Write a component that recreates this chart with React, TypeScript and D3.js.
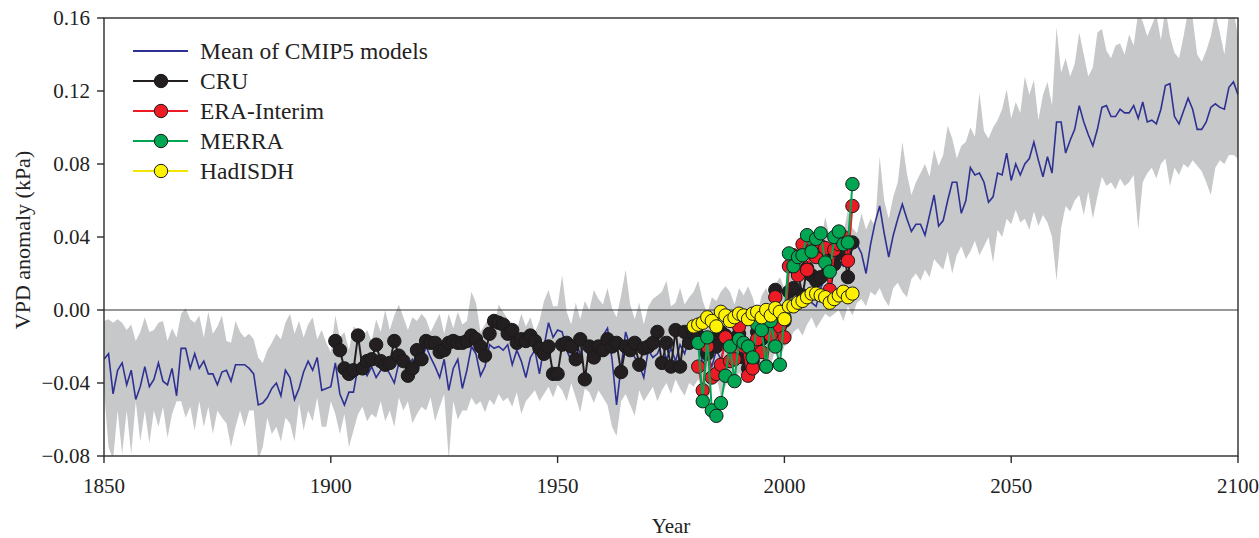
import React from 'react';
import * as d3 from 'd3';

const W = 1259;
const H = 538;
const plot = { left: 104, right: 1238, top: 18, bottom: 456 };
const FONT = '"Liberation Serif", "Times New Roman", serif';

// CMIP5 ensemble, one value per year from 1850 to 2100 (kPa)
const CMIP_START = 1850;
const cmipMean = [
  -0.027, -0.024, -0.046, -0.033, -0.029, -0.041, -0.033, -0.049, -0.042, -0.031,
  -0.042, -0.038, -0.029, -0.039, -0.041, -0.032, -0.047, -0.021, -0.021, -0.032,
  -0.024, -0.032, -0.028, -0.035, -0.035, -0.041, -0.034, -0.033, -0.039, -0.030,
  -0.030, -0.030, -0.032, -0.035, -0.052, -0.051, -0.048, -0.043, -0.040, -0.047,
  -0.033, -0.037, -0.049, -0.043, -0.034, -0.028, -0.033, -0.026, -0.044, -0.043,
  -0.042, -0.029, -0.046, -0.052, -0.045, -0.045, -0.031, -0.031, -0.036, -0.031,
  -0.037, -0.033, -0.031, -0.035, -0.040, -0.029, -0.026, -0.030, -0.027, -0.033,
  -0.028, -0.020, -0.026, -0.031, -0.037, -0.027, -0.044, -0.032, -0.027, -0.043,
  -0.033, -0.020, -0.024, -0.036, -0.031, -0.019, -0.021, -0.020, -0.022, -0.019,
  -0.030, -0.022, -0.028, -0.037, -0.026, -0.022, -0.035, -0.020, -0.007, -0.015,
  -0.011, -0.012, -0.022, -0.028, -0.017, -0.024, -0.019, -0.027, -0.018, -0.022,
  -0.014, -0.010, -0.027, -0.052, -0.031, -0.012, -0.020, -0.026, -0.030, -0.037,
  -0.022, -0.026, -0.024, -0.018, -0.027, -0.021, -0.028, -0.019, -0.024, -0.015,
  -0.020, -0.016, -0.030, -0.024, -0.031, -0.022, -0.027, -0.018, -0.025, -0.013,
  -0.020, -0.017, -0.024, -0.012, -0.020, -0.010, -0.014, -0.006, -0.012, -0.003,
  0.000, 0.004, 0.006, 0.003, 0.010, 0.008, 0.004, 0.002, 0.012, 0.018,
  0.018, 0.022, 0.026, 0.024, 0.030, 0.033, 0.036, 0.031, 0.020, 0.036,
  0.048, 0.057, 0.042, 0.029, 0.041, 0.050, 0.058, 0.050, 0.043, 0.047,
  0.047, 0.041, 0.052, 0.063, 0.046, 0.049, 0.060, 0.070, 0.070, 0.053,
  0.060, 0.078, 0.074, 0.075, 0.070, 0.059, 0.062, 0.075, 0.074, 0.086,
  0.071, 0.080, 0.074, 0.080, 0.083, 0.092, 0.082, 0.073, 0.084, 0.075,
  0.103, 0.103, 0.086, 0.093, 0.099, 0.112, 0.103, 0.096, 0.090, 0.099,
  0.111, 0.112, 0.106, 0.106, 0.110, 0.108, 0.108, 0.112, 0.105, 0.114,
  0.103, 0.104, 0.102, 0.110, 0.123, 0.124, 0.106, 0.102, 0.109, 0.116,
  0.110, 0.099, 0.099, 0.103, 0.111, 0.113, 0.111, 0.110, 0.122, 0.125,
  0.118,
];
const cmipUpper = [
  -0.006, -0.005, -0.007, -0.005, -0.007, -0.011, -0.008, -0.017, -0.012, -0.004,
  -0.012, -0.011, -0.007, -0.006, -0.017, -0.010, -0.015, -0.002, 0.001, -0.005,
  -0.007, -0.003, -0.015, -0.001, -0.013, -0.009, -0.003, -0.017, -0.018, -0.006,
  -0.012, -0.015, -0.013, -0.016, -0.026, -0.029, -0.022, -0.018, -0.013, -0.016,
  -0.007, -0.002, -0.013, -0.006, -0.015, -0.008, -0.004, -0.016, -0.011, -0.018,
  -0.023, -0.003, -0.015, -0.012, -0.022, -0.009, -0.011, -0.015, -0.011, -0.017,
  -0.005, -0.012, 0.000, -0.011, -0.003, 0.003, -0.004, -0.011, -0.004, -0.006,
  -0.002, -0.005, -0.012, -0.007, -0.002, -0.013, -0.002, -0.010, -0.001, -0.008,
  -0.006, 0.010, 0.004, -0.012, -0.008, -0.004, -0.009, 0.003, -0.001, -0.005,
  -0.007, -0.011, -0.002, -0.009, -0.004, -0.012, -0.006, 0.005, 0.011, 0.002,
  0.002, 0.019, -0.001, -0.008, 0.004, -0.005, 0.005, 0.000, 0.011, 0.006,
  0.003, 0.012, 0.001, -0.004, 0.008, 0.022, 0.003, -0.005, 0.004, -0.008,
  0.002, 0.006, 0.008, 0.010, 0.016, 0.002, 0.004, 0.012, 0.003, 0.007,
  0.010, 0.016, 0.005, -0.002, 0.007, 0.005, 0.010, 0.013, 0.010, 0.003,
  0.012, 0.008, 0.013, 0.007, -0.002, 0.008, 0.012, 0.005, 0.014, 0.018,
  0.012, 0.020, 0.025, 0.018, 0.030, 0.028, 0.035, 0.040, 0.036, 0.051,
  0.040, 0.038, 0.045, 0.042, 0.055, 0.045, 0.042, 0.053, 0.044, 0.050,
  0.046, 0.084, 0.060, 0.050, 0.062, 0.070, 0.092, 0.075, 0.063, 0.070,
  0.075, 0.080, 0.073, 0.088, 0.079, 0.085, 0.101, 0.094, 0.083, 0.090,
  0.092, 0.100, 0.095, 0.119, 0.098, 0.094, 0.100, 0.104, 0.110, 0.121,
  0.105, 0.114, 0.108, 0.128, 0.118, 0.126, 0.104, 0.118, 0.125, 0.112,
  0.155, 0.130, 0.138, 0.128, 0.135, 0.152, 0.140, 0.128, 0.133, 0.152,
  0.154, 0.142, 0.138, 0.145, 0.146, 0.140, 0.151, 0.145, 0.163, 0.158,
  0.150, 0.156, 0.162, 0.148, 0.165, 0.150, 0.141, 0.138, 0.150, 0.164,
  0.160, 0.140, 0.136, 0.142, 0.150, 0.163, 0.152, 0.140, 0.162, 0.165,
  0.150,
];
const cmipLower = [
  -0.044, -0.075, -0.082, -0.055, -0.079, -0.055, -0.079, -0.050, -0.072, -0.055,
  -0.073, -0.055, -0.064, -0.053, -0.070, -0.057, -0.050, -0.050, -0.059, -0.053,
  -0.066, -0.050, -0.064, -0.053, -0.068, -0.055, -0.059, -0.062, -0.075, -0.064,
  -0.055, -0.064, -0.055, -0.055, -0.082, -0.075, -0.059, -0.068, -0.064, -0.072,
  -0.059, -0.062, -0.072, -0.051, -0.066, -0.055, -0.061, -0.048, -0.064, -0.064,
  -0.050, -0.057, -0.068, -0.057, -0.075, -0.066, -0.057, -0.053, -0.061, -0.057,
  -0.059, -0.050, -0.061, -0.055, -0.064, -0.048, -0.055, -0.050, -0.062, -0.057,
  -0.053, -0.055, -0.048, -0.061, -0.053, -0.046, -0.082, -0.050, -0.060, -0.055,
  -0.055, -0.048, -0.052, -0.050, -0.056, -0.049, -0.052, -0.046, -0.050, -0.048,
  -0.053, -0.045, -0.057, -0.050, -0.047, -0.044, -0.050, -0.046, -0.042, -0.048,
  -0.041, -0.044, -0.050, -0.040, -0.048, -0.056, -0.043, -0.045, -0.051, -0.044,
  -0.048, -0.052, -0.064, -0.069, -0.050, -0.046, -0.052, -0.058, -0.044, -0.050,
  -0.046, -0.042, -0.050, -0.044, -0.040, -0.046, -0.038, -0.043, -0.047, -0.040,
  -0.042, -0.038, -0.045, -0.050, -0.040, -0.036, -0.048, -0.042, -0.036, -0.040,
  -0.034, -0.040, -0.030, -0.036, -0.028, -0.032, -0.026, -0.030, -0.022, -0.026,
  -0.020, -0.018, -0.012, -0.010, -0.014, -0.008, -0.004, -0.010, -0.006, -0.002,
  -0.004, -0.002, 0.000, -0.006, 0.002, -0.003, 0.004, 0.006, 0.002, 0.010,
  0.008, 0.012, 0.006, 0.002, 0.012, 0.015, 0.010, 0.007, 0.017, 0.020,
  0.016, 0.022, 0.018, 0.028, 0.025, 0.022, 0.032, 0.020, 0.030, 0.035,
  0.028, 0.032, 0.038, 0.030, 0.035, 0.040, 0.026, 0.044, 0.040, 0.050,
  0.047, 0.055, 0.048, 0.050, 0.044, 0.054, 0.046, 0.052, 0.048, 0.040,
  0.016, 0.045, 0.057, 0.054, 0.060, 0.063, 0.052, 0.065, 0.050, 0.062,
  0.073, 0.068, 0.070, 0.066, 0.072, 0.068, 0.070, 0.074, 0.044, 0.070,
  0.075, 0.078, 0.072, 0.080, 0.083, 0.068, 0.078, 0.074, 0.080, 0.078,
  0.082, 0.079, 0.076, 0.070, 0.063, 0.078, 0.082, 0.080, 0.085, 0.085,
  0.083,
];

// observations
const CRU_START = 1901;
const cru = [
  -0.017, -0.022, -0.032, -0.035, -0.033, -0.014, -0.032, -0.028, -0.027, -0.019,
  -0.028, -0.030, -0.029, -0.017, -0.025, -0.028, -0.036, -0.032, -0.022, -0.027,
  -0.017, -0.018, -0.018, -0.023, -0.022, -0.018, -0.017, -0.018, -0.018, -0.017,
  -0.014, -0.016, -0.020, -0.025, -0.013, -0.006, -0.007, -0.008, -0.013, -0.011,
  -0.018, -0.016, -0.017, -0.014, -0.017, -0.021, -0.024, -0.020, -0.035, -0.035,
  -0.019, -0.018, -0.020, -0.027, -0.016, -0.038, -0.020, -0.026, -0.020, -0.022,
  -0.016, -0.020, -0.018, -0.034, -0.020, -0.022, -0.018, -0.030, -0.021, -0.020,
  -0.018, -0.012, -0.029, -0.018, -0.031, -0.011, -0.031, -0.012, -0.018, -0.013,
  -0.014, -0.018, -0.024, -0.016, -0.020, -0.012, -0.014, -0.018, -0.017, -0.013,
  -0.026, -0.032, -0.028, -0.012, -0.016, -0.010, -0.007, 0.011, -0.004, -0.006,
  0.010, 0.012, 0.020, 0.008, 0.023, 0.019, 0.016, 0.018, 0.030, 0.008,
  0.025, 0.031, 0.033, 0.018, 0.037,
];
const ERA_START = 1981;
const era = [
  -0.031, -0.044, -0.020, -0.037, -0.035, -0.030, -0.015, -0.028, -0.027, -0.009,
  -0.020, -0.036, -0.032, -0.016, -0.023, -0.031, -0.014, 0.007, -0.009, -0.015,
  0.024, 0.030, 0.019, 0.036, 0.022, 0.033, 0.029, 0.035, 0.034, 0.011,
  0.033, 0.036, 0.040, 0.027, 0.057,
];
const MERRA_START = 1981;
const merra = [
  -0.018, -0.050, -0.015, -0.055, -0.058, -0.051, -0.036, -0.020, -0.039, -0.016,
  -0.018, -0.020, -0.026, -0.008, -0.011, -0.031, -0.006, -0.020, -0.030, -0.004,
  0.031, 0.024, 0.029, 0.030, 0.041, 0.032, 0.039, 0.042, 0.026, 0.021,
  0.040, 0.043, 0.036, 0.037, 0.069,
];
const HAD_START = 1980;
const hadisdh = [
  -0.009, -0.008, -0.007, -0.004, -0.006, -0.009, -0.001, -0.003, -0.006, -0.004,
  -0.002, -0.003, -0.005, -0.002, -0.001, -0.004, 0.000, -0.003, 0.001, -0.001,
  -0.005, 0.002, 0.002, 0.004, 0.005, 0.007, 0.009, 0.009, 0.008, 0.007,
  0.004, 0.006, 0.008, 0.010, 0.007, 0.009,
];

const xTicks = [1850, 1900, 1950, 2000, 2050, 2100];
const yTicks = [-0.08, -0.04, 0, 0.04, 0.08, 0.12, 0.16];

const obsSeries = [
  { name: 'CRU', start: CRU_START, values: cru, fill: '#231f20', line: '#231f20' },
  { name: 'ERA-Interim', start: ERA_START, values: era, fill: '#ed1c24', line: '#ed1c24' },
  { name: 'MERRA', start: MERRA_START, values: merra, fill: '#00a651', line: '#00a651' },
  { name: 'HadISDH', start: HAD_START, values: hadisdh, fill: '#fff200', line: '#f2e600' },
];

const MEAN_COLOR = '#2e3192';
const BAND_COLOR = '#c7c8ca';
const AXIS_COLOR = '#2b2b2b';

const toPoints = (start: number, values: number[]) =>
  values.map((v, i) => ({ year: start + i, v }));

const fmt = (d: number) => d3.format('.2f')(d).replace('-', '\u2212');

export default function App() {
  const x = d3.scaleLinear().domain([1850, 2100]).range([plot.left, plot.right]);
  const y = d3.scaleLinear().domain([-0.08, 0.16]).range([plot.bottom, plot.top]);

  const band = toPoints(CMIP_START, cmipMean).map((d, i) => ({
    year: d.year,
    lo: cmipLower[i],
    hi: cmipUpper[i],
  }));
  const area = d3
    .area<{ year: number; lo: number; hi: number }>()
    .x((d) => x(d.year))
    .y0((d) => y(d.lo))
    .y1((d) => y(d.hi));
  const line = d3
    .line<{ year: number; v: number }>()
    .x((d) => x(d.year))
    .y((d) => y(d.v));

  const legendRows = [
    { name: 'Mean of CMIP5 models', line: MEAN_COLOR, fill: null as string | null },
    ...obsSeries.map((s) => ({ name: s.name, line: s.line, fill: s.fill })),
  ];

  return (
    <svg
      width={W}
      height={H}
      style={{ position: 'absolute', left: 0, top: 0, background: '#fff' }}
      fontFamily={FONT}
    >
      <defs>
        <clipPath id="plot-clip">
          <rect x={plot.left} y={plot.top} width={plot.right - plot.left} height={plot.bottom - plot.top} />
        </clipPath>
      </defs>

      <g clipPath="url(#plot-clip)">
        <path d={area(band) ?? ''} fill={BAND_COLOR} stroke="none" />
        <line x1={plot.left} x2={plot.right} y1={y(0)} y2={y(0)} stroke="#333" strokeWidth={1.2} />
        <path
          d={line(toPoints(CMIP_START, cmipMean)) ?? ''}
          fill="none"
          stroke={MEAN_COLOR}
          strokeWidth={1.6}
          strokeLinejoin="miter"
        />
      </g>

      {obsSeries.map((s) => {
        const pts = toPoints(s.start, s.values);
        return (
          <g key={s.name}>
            <path d={line(pts) ?? ''} fill="none" stroke={s.line} strokeWidth={2} />
            {pts.map((p) => (
              <circle
                key={p.year}
                cx={x(p.year)}
                cy={y(p.v)}
                r={6.7}
                fill={s.fill}
                stroke="#1a1a1a"
                strokeWidth={1}
              />
            ))}
          </g>
        );
      })}

      {/* frame */}
      <rect
        x={plot.left}
        y={plot.top}
        width={plot.right - plot.left}
        height={plot.bottom - plot.top}
        fill="none"
        stroke={AXIS_COLOR}
        strokeWidth={1.4}
      />

      {/* y axis */}
      {yTicks.map((t) => (
        <g key={t}>
          <line x1={plot.left - 7} x2={plot.left} y1={y(t)} y2={y(t)} stroke={AXIS_COLOR} strokeWidth={1.4} />
          <text x={plot.left - 14} y={y(t) + 7} textAnchor="end" fontSize={21} fill="#222">
            {fmt(t)}
          </text>
        </g>
      ))}

      {/* x axis */}
      {xTicks.map((t) => (
        <g key={t}>
          <line x1={x(t)} x2={x(t)} y1={plot.bottom} y2={plot.bottom + 7} stroke={AXIS_COLOR} strokeWidth={1.4} />
          <text x={x(t)} y={plot.bottom + 37} textAnchor="middle" fontSize={21} fill="#222">
            {t}
          </text>
        </g>
      ))}

      <text x={(plot.left + plot.right) / 2} y={533} textAnchor="middle" fontSize={21} fill="#222">
        Year
      </text>
      <text
        transform={`translate(30, ${(plot.top + plot.bottom) / 2 + 3}) rotate(-90)`}
        textAnchor="middle"
        fontSize={22}
        fill="#222"
      >
        VPD anomaly (kPa)
      </text>

      {/* legend */}
      {legendRows.map((r, i) => {
        const cy = 51 + i * 30;
        return (
          <g key={r.name}>
            <line x1={133} x2={188} y1={cy} y2={cy} stroke={r.line} strokeWidth={2} />
            {r.fill && <circle cx={161} cy={cy} r={6.7} fill={r.fill} stroke="#1a1a1a" strokeWidth={1} />}
            <text x={200} y={cy + 8} fontSize={23.5} fill="#222">
              {r.name}
            </text>
          </g>
        );
      })}
    </svg>
  );
}
